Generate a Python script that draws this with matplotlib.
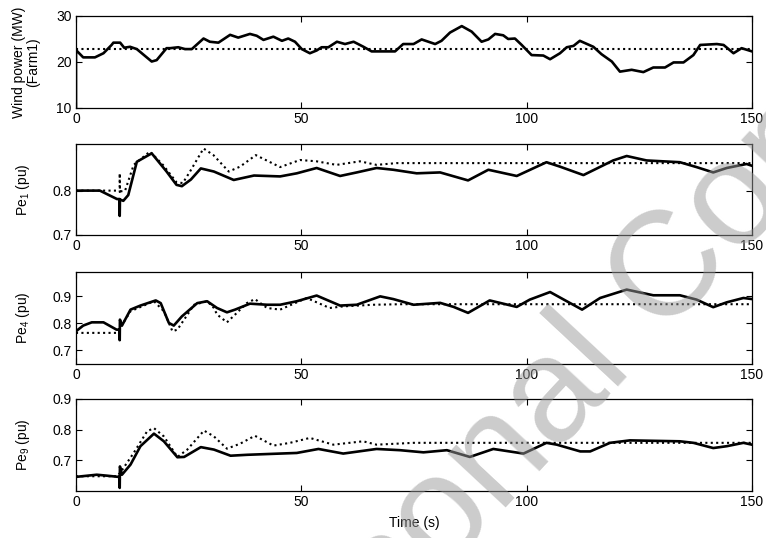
"""
Wind farm output and generator electrical power, 0-150 s
"""
import matplotlib
matplotlib.use('Agg')
import matplotlib.pyplot as plt

plt.rcParams['font.family'] = ['Liberation Sans', 'DejaVu Sans']
plt.rcParams['mathtext.default'] = 'regular'
plt.rcParams['font.size'] = 10

# wind power of farm 1 (MW)
t_wind = [0, 0, 1.6, 4.2, 6.1, 7.9, 8.3, 9.8, 10.7, 12.0, 13.5, 16.8, 17.9, 20.1, 20.9,
          22.7, 24.2, 25.7, 28.3, 29.7, 31.6, 34.2, 36.0, 38.6, 40.1, 41.6, 43.8, 45.7,
          47.1, 48.6, 50.1, 51.9, 53.4, 54.5, 56.0, 57.9, 59.7, 61.6, 63.8, 65.6, 69.7,
          70.8, 72.6, 74.9, 76.7, 78.2, 79.7, 81.1, 83.0, 85.6, 87.8, 90.0, 91.5, 93.0,
          94.8, 95.9, 97.4, 98.9, 101.1, 103.7, 105.2, 107.4, 108.9, 110.4, 111.8, 114.8,
          116.6, 118.9, 120.7, 123.3, 125.9, 128.1, 130.7, 132.6, 134.8, 137.0, 138.5,
          142.2, 143.7, 145.9, 147.7, 150]
p_wind = [10, 22.6, 21.0, 21.0, 21.9, 23.7, 24.2, 24.2, 23.1, 23.3, 22.8, 20.1, 20.4,
          23.0, 23.0, 23.2, 22.8, 22.8, 25.1, 24.4, 24.2, 25.9, 25.3, 26.1, 25.7, 24.8,
          25.5, 24.6, 25.1, 24.4, 22.8, 21.9, 22.5, 23.2, 23.2, 24.4, 23.9, 24.4, 23.3,
          22.3, 22.3, 22.3, 23.9, 23.9, 24.9, 24.4, 23.9, 24.6, 26.4, 27.8, 26.6, 24.4,
          24.9, 26.1, 25.8, 25.0, 25.1, 23.7, 21.5, 21.4, 20.6, 21.9, 23.2, 23.5, 24.6,
          23.3, 21.7, 20.1, 17.9, 18.3, 17.8, 18.8, 18.8, 19.9, 19.9, 21.5, 23.7, 23.9,
          23.7, 21.9, 23.0, 22.3]
wind_mean = 22.8

# Pe1 (pu)
t_pe1 = [0, 5.3, 9.1, 9.7, 9.7, 9.75, 10.5, 11.6, 13.5, 16.8, 20.1, 22.3, 23.5, 25.5,
         27.7, 30.6, 35.0, 39.5, 45.3, 49.0, 53.4, 58.6, 62.3, 66.7, 70.4, 75.6, 80.8,
         87.0, 91.5, 97.8, 104.4, 107.4, 112.6, 119.2, 122.2, 126.6, 134.0, 137.7, 141.4,
         144.4, 148.8, 150]
pe1 = [0.8, 0.8, 0.781, 0.781, 0.743, 0.78, 0.777, 0.79, 0.865, 0.884, 0.843, 0.813,
       0.81, 0.825, 0.85, 0.843, 0.824, 0.834, 0.832, 0.839, 0.851, 0.833, 0.841, 0.851,
       0.847, 0.839, 0.841, 0.823, 0.847, 0.833, 0.864, 0.854, 0.835, 0.868, 0.878,
       0.868, 0.864, 0.853, 0.841, 0.851, 0.86, 0.856]
t_pe1_ref = [0, 9.0, 9.7, 9.7, 9.75, 10.9, 12.8, 16.4, 19.3, 22.3, 23.7, 25.3, 28.3, 30.5,
             33.9, 36.4, 39.9, 45.3, 49.7, 53.4, 57.8, 63.0, 66.7, 71.1, 150]
pe1_ref = [0.8, 0.8, 0.797, 0.839, 0.798, 0.8, 0.858, 0.888, 0.858, 0.819, 0.817, 0.843,
           0.895, 0.88, 0.843, 0.854, 0.88, 0.853, 0.869, 0.866, 0.858, 0.866, 0.858,
           0.862, 0.862]

# Pe4 (pu)
t_pe4 = [0, 1.6, 3.5, 6.1, 9.0, 9.7, 9.7, 9.75, 10.2, 12.1, 14.3, 17.7, 18.8, 20.6, 21.7,
         23.5, 26.9, 29.1, 31.3, 33.5, 35.3, 38.6, 42.4, 45.3, 49.0, 53.4, 58.6, 62.3,
         67.5, 70.4, 74.9, 80.8, 83.8, 87.0, 91.8, 97.8, 100.7, 105.2, 108.9, 112.3,
         116.3, 122.2, 128.1, 134.0, 137.7, 141.4, 144.4, 148.1, 150]
pe4 = [0.771, 0.792, 0.804, 0.804, 0.777, 0.777, 0.738, 0.814, 0.792, 0.851, 0.866,
       0.885, 0.875, 0.802, 0.792, 0.826, 0.875, 0.882, 0.857, 0.841, 0.851, 0.873, 0.869,
       0.869, 0.882, 0.903, 0.866, 0.869, 0.9, 0.89, 0.869, 0.876, 0.861, 0.839, 0.885,
       0.861, 0.888, 0.916, 0.882, 0.851, 0.894, 0.925, 0.904, 0.904, 0.888, 0.86, 0.878,
       0.894, 0.89]
t_pe4_ref = [0, 9.0, 9.8, 12.1, 17.3, 19.5, 21.4, 22.5, 26.2, 29.1, 30.6, 31.3, 33.5,
             35.7, 37.9, 39.7, 42.4, 45.3, 51.2, 56.3, 59.3, 66.0, 72.0, 150]
pe4_ref = [0.765, 0.765, 0.783, 0.845, 0.882, 0.845, 0.771, 0.777, 0.869, 0.882, 0.857,
           0.833, 0.804, 0.839, 0.875, 0.89, 0.857, 0.851, 0.894, 0.857, 0.863, 0.869,
           0.871, 0.871]

# Pe9 (pu)
t_pe9 = [0, 4.6, 6.8, 9.4, 9.7, 9.7, 9.75, 10.2, 12.1, 14.3, 17.3, 19.5, 22.5, 24.0,
         27.7, 30.6, 34.3, 38.0, 45.3, 49.0, 53.8, 59.3, 66.7, 71.9, 77.1, 82.3, 87.4,
         92.6, 99.3, 104.4, 106.7, 111.9, 114.1, 118.5, 122.9, 134.0, 137.0, 141.4, 144.4,
         148.1, 150]
pe9 = [0.646, 0.653, 0.65, 0.646, 0.646, 0.61, 0.68, 0.653, 0.686, 0.746, 0.787, 0.762,
       0.71, 0.711, 0.743, 0.735, 0.715, 0.718, 0.722, 0.724, 0.737, 0.722, 0.737, 0.733,
       0.726, 0.733, 0.711, 0.737, 0.722, 0.757, 0.751, 0.729, 0.729, 0.757, 0.765, 0.762,
       0.757, 0.74, 0.746, 0.757, 0.751]
t_pe9_ref = [0, 9.0, 9.8, 12.8, 15.8, 17.3, 19.5, 22.5, 24.7, 28.4, 30.6, 33.5, 36.4,
             39.7, 43.8, 47.5, 51.9, 57.1, 63.7, 66.7, 74.9, 150]
pe9_ref = [0.648, 0.648, 0.659, 0.724, 0.795, 0.805, 0.778, 0.711, 0.735, 0.797, 0.778,
           0.738, 0.754, 0.78, 0.748, 0.757, 0.773, 0.751, 0.762, 0.751, 0.757, 0.757]

x_ticks = [0, 50, 100, 150]

fig = plt.figure(figsize=(7.66, 5.38), dpi=100)
boxes = [[0.0992, 0.7993, 0.8825, 0.171],
         [0.0992, 0.5632, 0.8825, 0.1691],
         [0.0992, 0.3234, 0.8825, 0.171],
         [0.0992, 0.0874, 0.8825, 0.171]]
axes = [fig.add_axes(b) for b in boxes]

dot = (0, (1, 1.6))

ax = axes[0]
ax.plot(t_wind, p_wind, color='black', lw=1.9)
ax.plot([0, 150], [wind_mean, wind_mean], color='black', lw=1.5, linestyle=dot)
ax.set_ylim(10, 30)
ax.set_yticks([10, 20, 30])
ax.set_ylabel('Wind power (MW)\n(Farm1)', linespacing=1.05, multialignment='center')
ax.yaxis.set_label_coords(-0.053, 0.5)

panels = [(t_pe1, pe1, t_pe1_ref, pe1_ref, (0.7, 0.905), [0.7, 0.8], 'Pe$_1$ (pu)'),
          (t_pe4, pe4, t_pe4_ref, pe4_ref, (0.65, 0.99), [0.7, 0.8, 0.9], 'Pe$_4$ (pu)'),
          (t_pe9, pe9, t_pe9_ref, pe9_ref, (0.6, 0.9), [0.7, 0.8, 0.9], 'Pe$_9$ (pu)')]
for ax, (t, y, tr, yr, lim, ticks, label) in zip(axes[1:], panels):
    ax.plot(tr, yr, color='black', lw=1.5, linestyle=dot)
    ax.plot(t, y, color='black', lw=1.9)
    ax.set_ylim(*lim)
    ax.set_yticks(ticks)
    ax.set_yticklabels(['%.1f' % v for v in ticks])
    ax.set_ylabel(label)
    ax.yaxis.set_label_coords(-0.065, 0.5)

for ax in axes:
    ax.set_xlim(0, 150)
    ax.set_xticks(x_ticks)
    ax.tick_params(direction='in', top=True, right=True, length=4, width=0.8,
                   pad=3, labelsize=10)
    for s in ax.spines.values():
        s.set_linewidth(0.9)

axes[-1].set_xlabel('Time (s)')
axes[-1].xaxis.set_label_coords(0.5, -0.27)

# watermark across the lower right
fig.text(0.704, 0.227, 'Personal Copy', fontsize=107, color=(0.6, 0.6, 0.6),
         alpha=0.5, rotation=47, ha='center', va='center', rotation_mode='anchor',
         zorder=10)

fig.savefig('out.png', dpi=100)
